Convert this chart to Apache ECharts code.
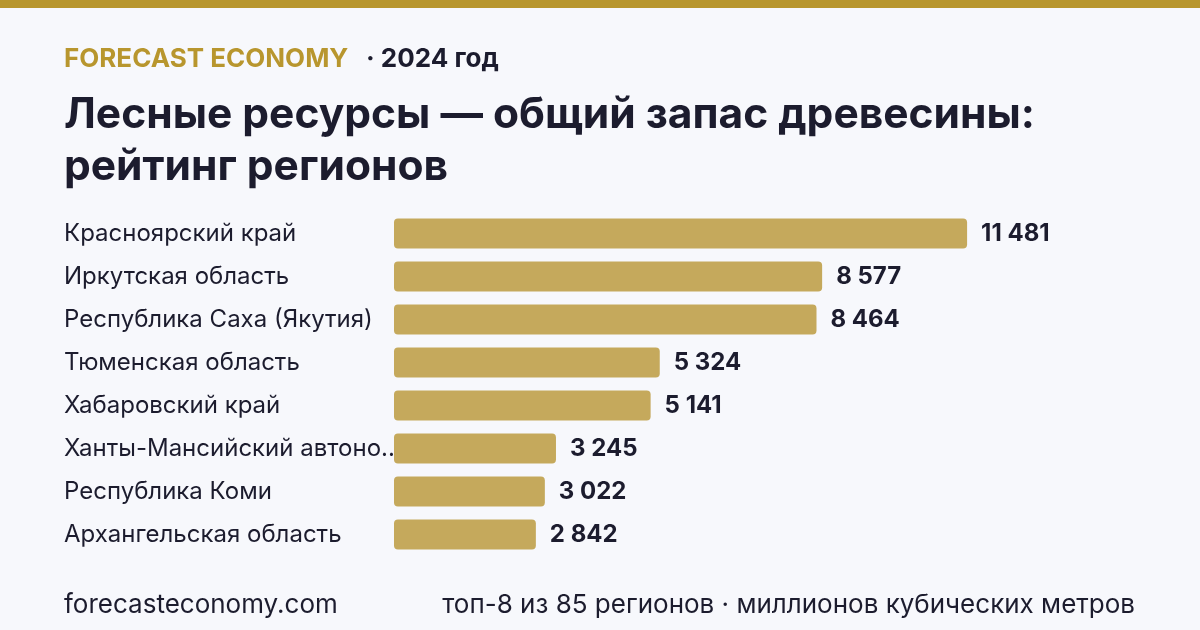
<!DOCTYPE html>
<html>
<head>
<meta charset="utf-8">
<script src="https://cdn.jsdelivr.net/npm/echarts@6/dist/echarts.min.js"></script>
<style>
  html, body { margin: 0; padding: 0; background: #f7f8fc; }
  #chart { width: 1200px; height: 630px; }
</style>
</head>
<body>
<div id="chart"></div>
<script>
// data
const regions = [
  'Красноярский край',
  'Иркутская область',
  'Республика Саха (Якутия)',
  'Тюменская область',
  'Хабаровский край',
  'Ханты-Мансийский автономный округ — Югра',
  'Республика Коми',
  'Архангельская область'
]
const volumes = [11481, 8577, 8464, 5324, 5141, 3245, 3022, 2842]

const font = 'Inter, "Noto Sans", sans-serif'
const ink = '#1c1c2e'
const gold = '#b8962e'

const fmt = v => String(v).replace(/\B(?=(\d{3})+(?!\d))/g, ' ')

const chart = echarts.init(document.getElementById('chart'))
chart.setOption({
  backgroundColor: '#f7f8fc',
  animation: false,
  textStyle: { fontFamily: font },
  grid: { left: 394, right: 207, top: 212, height: 344 },
  xAxis: {
    type: 'value',
    min: 0,
    max: 12000,
    show: false
  },
  yAxis: {
    type: 'category',
    data: regions,
    inverse: true,
    axisLine: { show: false },
    axisTick: { show: false },
    axisLabel: {
      align: 'left',
      margin: 330,
      width: 525,
      overflow: 'truncate',
      ellipsis: '...',
      fontSize: 24,
      padding: [6, 0, 0, 0],
      color: ink,
      fontFamily: font
    }
  },
  series: [{
    type: 'bar',
    data: volumes,
    barWidth: 30,
    itemStyle: { color: '#c5a95c', borderRadius: 4 },
    label: {
      show: true,
      position: 'right',
      distance: 14,
      padding: [5, 0, 0, 0],
      formatter: p => fmt(p.value),
      fontSize: 24,
      fontWeight: 'bold',
      color: ink,
      fontFamily: font
    }
  }],
  graphic: [
    { type: 'rect', left: 0, top: 0, shape: { width: 1200, height: 8 }, style: { fill: gold } },
    { type: 'text', left: 64, top: 46, style: { text: 'FORECAST ECONOMY', fill: gold, font: 'bold 26px ' + font } },
    { type: 'text', left: 366, top: 46, style: { text: '· 2024 год', fill: ink, font: 'bold 26px ' + font } },
    { type: 'text', left: 64, top: 89, style: { text: 'Лесные ресурсы — общий запас древесины:\nрейтинг регионов', fill: ink, font: 'bold 42.5px ' + font, lineHeight: 52 } },
    { type: 'text', left: 64, top: 592, style: { text: 'forecasteconomy.com', fill: ink, font: '26px ' + font } },
    { type: 'text', right: 65, top: 592, style: { text: 'топ-8 из 85 регионов · миллионов кубических метров', fill: ink, font: '26px ' + font } }
  ]
})
</script>
</body>
</html>
